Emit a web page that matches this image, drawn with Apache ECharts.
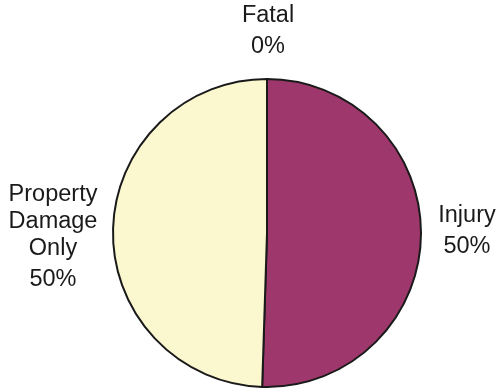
<!DOCTYPE html>
<html>
<head>
<meta charset="utf-8">
<script src="https://cdn.jsdelivr.net/npm/echarts@6/dist/echarts.min.js"></script>
<style>
  html, body { margin: 0; padding: 0; background: #fff; }
  #crashChart { width: 496px; height: 389px; }
</style>
</head>
<body>
<div id="crashChart"></div>
<script>
// severity categories, share of crashes and the printed percent labels
var categories = ['Fatal', 'Injury', 'Property\nDamage\nOnly'];
var shares = [0, 50.5, 49.5];
var pctLabels = ['0%', '50%', '50%'];
var colors = ['#9e386c', '#9e386c', '#fbf7cf'];

var chart = echarts.init(document.getElementById('crashChart'));

// label anchors (centre of each text block)
var labelAnchor = [
  { x: 268, y: 33 },
  { x: 467, y: 233 },
  { x: 53, y: 239 }
];

chart.setOption({
  backgroundColor: '#ffffff',
  animation: false,
  series: [{
    type: 'pie',
    center: [267, 233],
    radius: [0, 154],
    startAngle: 90,
    clockwise: true,
    avoidLabelOverlap: false,
    itemStyle: {
      borderColor: '#1a1a1a',
      borderWidth: 2
    },
    label: {
      show: true,
      position: 'outside',
      formatter: function (p) {
        var lines = p.name.split('\n').map(function (s) { return '{n|' + s + '}'; });
        lines.push('{p|' + pctLabels[p.dataIndex] + '}');
        return lines.join('\n');
      },
      rich: {
        n: { fontFamily: 'Liberation Sans', fontSize: 23.5, color: '#1a1a1a', lineHeight: 27, align: 'center' },
        p: { fontFamily: 'Liberation Sans', fontSize: 23.5, color: '#1a1a1a', lineHeight: 35, align: 'center' }
      }
    },
    labelLine: { show: false },
    labelLayout: function (params) {
      var a = labelAnchor[params.dataIndex];
      return { x: a.x, y: a.y, align: 'center', verticalAlign: 'middle' };
    },
    data: categories.map(function (c, i) {
      return { name: c, value: shares[i], itemStyle: { color: colors[i] } };
    })
  }]
});
</script>
</body>
</html>
